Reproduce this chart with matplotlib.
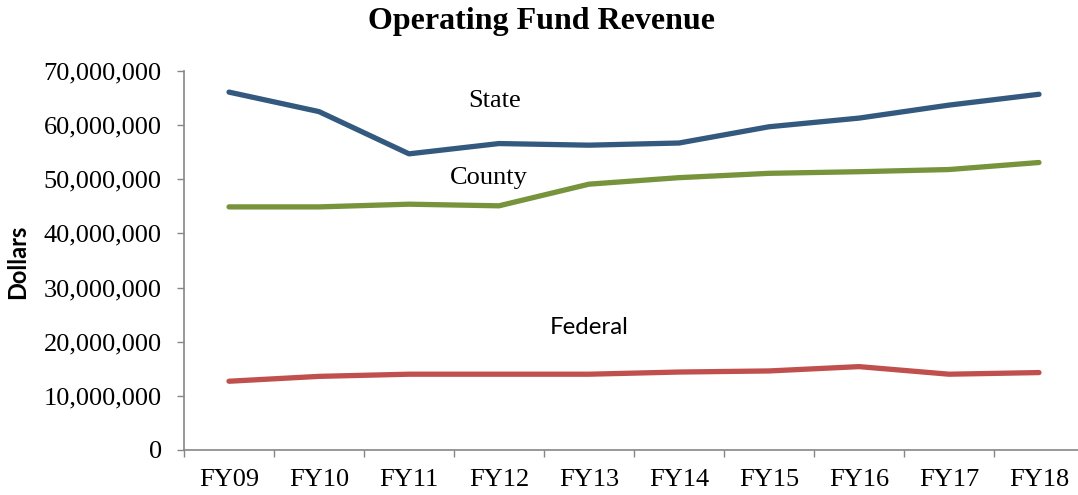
import matplotlib
matplotlib.use("Agg")
import matplotlib.pyplot as plt
from matplotlib.ticker import FuncFormatter, FixedLocator

years = ["FY09", "FY10", "FY11", "FY12", "FY13", "FY14", "FY15", "FY16", "FY17", "FY18"]
state = [66.1e6, 62.5e6, 54.7e6, 56.6e6, 56.3e6, 56.7e6, 59.7e6, 61.3e6, 63.7e6, 65.7e6]
county = [44.9e6, 44.9e6, 45.4e6, 45.1e6, 49.1e6, 50.3e6, 51.1e6, 51.4e6, 51.8e6, 53.1e6]
federal = [12.7e6, 13.6e6, 14.0e6, 14.0e6, 14.0e6, 14.4e6, 14.6e6, 15.4e6, 14.0e6, 14.3e6]

serif = ["Liberation Serif", "DejaVu Serif"]
sans = ["Lato", "Open Sans", "DejaVu Sans"]

W, H = 1078, 495
fig = plt.figure(figsize=(W / 100, H / 100), dpi=100)
ax = fig.add_axes([184/W, 45/H, 900/W, 379/H])

x = list(range(len(years)))
ax.plot(x, state, color="#34597E", lw=3.8, solid_capstyle="round", solid_joinstyle="round")
ax.plot(x, county, color="#77933C", lw=3.8, solid_capstyle="round", solid_joinstyle="round")
ax.plot(x, federal, color="#C0504D", lw=3.8, solid_capstyle="round", solid_joinstyle="round")

ax.set_xlim(-0.5, len(years) - 0.5)
ax.set_ylim(0, 70e6)
ax.set_yticks([i * 10e6 for i in range(8)])
ax.yaxis.set_major_formatter(FuncFormatter(lambda v, p: f"{int(v):,}"))

ax.xaxis.set_major_locator(FixedLocator([i - 0.5 for i in range(len(years) + 1)]))
ax.xaxis.set_minor_locator(FixedLocator(x))
ax.set_xticklabels([])
ax.set_xticklabels(years, minor=True)
ax.tick_params(axis="x", which="major", length=5, width=1, color="#868686", direction="out")
ax.tick_params(axis="x", which="minor", length=0, pad=14)
ax.tick_params(axis="y", length=5, width=1, color="#868686", direction="out", pad=11)

for lab in ax.get_yticklabels() + ax.get_xticklabels(minor=True):
    lab.set_fontfamily(serif)
    lab.set_fontsize(19)

for s in ["top", "right"]:
    ax.spines[s].set_visible(False)
for s in ["left", "bottom"]:
    ax.spines[s].set_color("#868686")
    ax.spines[s].set_linewidth(1.2)

fig.text(18/W, 1 - 262/H, "Dollars", rotation=90, ha="center", va="center",
         family=sans, fontweight="bold", fontsize=17)

def ftext(px, py, s, **kw):
    fig.text(px / W, 1 - py / H, s, ha="center", va="center", **kw)

ftext(495, 101, "State", family=serif, fontsize=19)
ftext(489, 178, "County", family=serif, fontsize=19)
ftext(589, 328, "Federal", family=sans, fontsize=17.3)
ftext(541, 21, "Operating Fund Revenue", family=serif, fontweight="bold", fontsize=23)

fig.savefig("out.png", dpi=100)
